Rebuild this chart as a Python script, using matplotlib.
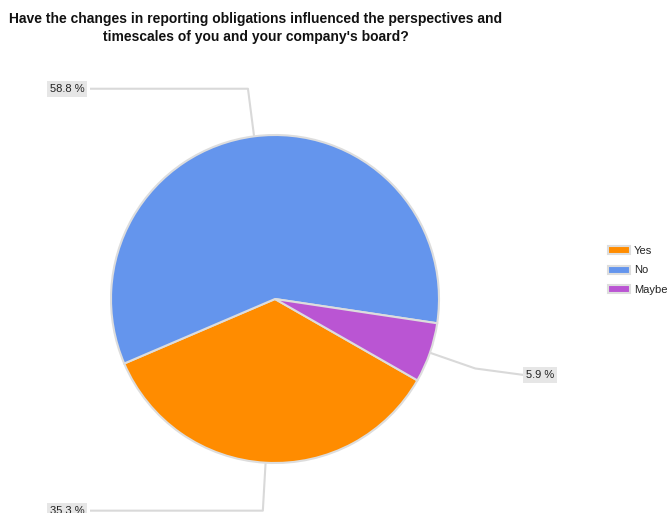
import numpy as np
import matplotlib
matplotlib.use("Agg")
import matplotlib.pyplot as plt

# survey answers
labels = ["Yes", "No", "Maybe"]
shares = [35.3, 58.8, 5.9]
colors = ["#ff8c00", "#6495ed", "#ba55d3"]
title = ("Have the changes in reporting obligations influenced the perspectives and\n"
         "timescales of you and your company's board?")

plt.rcParams["font.family"] = ["Liberation Sans", "DejaVu Sans"]

W, H = 667, 513
fig = plt.figure(figsize=(W / 100, H / 100), dpi=100)
ax = fig.add_axes([0, 0, 1, 1])

cx, cy, r = 275, H - 299, 164
wedges, _ = ax.pie(shares, colors=colors, startangle=-29.75, counterclock=False,
                   center=(cx, cy), radius=r,
                   wedgeprops=dict(edgecolor="#dddddd", linewidth=1.5))
ax.set_xlim(0, W)
ax.set_ylim(0, H)
ax.set_aspect("equal")
ax.axis("off")

# label boxes: (x, y from top, alignment)
label_pos = {"Yes": (48, 509, "left"), "No": (48, 87, "left"), "Maybe": (524, 375, "left")}
line_col = "#d9d9d9"
for w, name, val in zip(wedges, labels, shares):
    mid = np.deg2rad((w.theta1 + w.theta2) / 2)
    d = np.array([np.cos(mid), np.sin(mid)])
    p0 = np.array([cx, cy]) + r * d
    p1 = np.array([cx, cy]) + (r + 48) * d
    lx, ly, ha = label_pos[name]
    ly = H - ly
    if lx < cx:
        xs = [p0[0], p1[0], 90]
        ys = [p0[1], p1[1], p1[1]]
    else:
        xs = [p0[0], p1[0], lx]
        ys = [p0[1], p1[1], ly]
    ax.plot(xs, ys, color=line_col, lw=1.5, solid_capstyle="butt", zorder=0)
    ty = p1[1] if lx < cx else ly
    ax.text(lx + 2, ty, f"{val} %", ha=ha, va="center", fontsize=8, color="#222222",
            bbox=dict(boxstyle="square,pad=0.25", facecolor="#e6e6e6", edgecolor="none"))

ax.text(256, H - 28, title, ha="center", va="center", fontsize=10,
        fontweight="bold", color="#111111", linespacing=1.38)

leg = ax.legend(wedges, labels, loc="upper left", bbox_to_anchor=(608 / W, (H - 246) / H),
                frameon=False, fontsize=8, borderpad=0, borderaxespad=0,
                handlelength=2.0, handleheight=0.75, handletextpad=0.35, labelspacing=0.85)
for t in leg.get_texts():
    t.set_color("#222222")

fig.savefig("out.png", dpi=100)
